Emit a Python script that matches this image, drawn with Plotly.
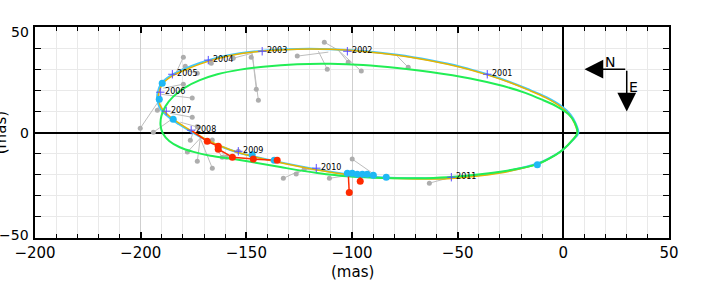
import plotly.graph_objects as go

# ---------------- data (mas) ----------------
# model orbit (gold)
gold_x = [6.6, 5.2, 3.0, -1.4, -8.0, -17.0, -26.0, -36.0, -48.7, -62.9, -78.6, -94.7, -110.3, -125.9,
          -142.0, -153.0, -163.0, -172.0, -179.0, -185.0, -189.5, -191.4, -191.5, -190.0, -186.5, -181.5,
          -175.6, -168.5, -161.0, -154.3, -146.7, -135.4, -116.4, -100.8, -85.2, -69.1, -54.9, -39.3,
          -25.0, -12.3, -4.0, -0.5, 4.3, 6.6]
gold_y = [-0.3, 4.5, 8.3, 12.3, 16.3, 20.3, 23.9, 27.3, 30.9, 34.0, 36.6, 38.4, 39.4, 39.5,
          38.6, 37.3, 35.2, 32.4, 29.6, 26.8, 23.2, 18.8, 15.5, 11.5, 7.8, 4.2,
          0.5, -3.5, -6.9, -9.4, -11.4, -14.0, -17.8, -20.2, -21.6, -22.0, -21.9, -20.5,
          -18.3, -15.0, -10.8, -8.4, -3.6, -0.3]
# second orbit solution (cyan)
cyan_x = [7.1, 5.7, 3.4, -1.1, -7.8, -16.9, -26.0, -36.0, -48.7, -62.9, -78.6, -94.7, -110.3, -125.9,
          -142.0, -153.1, -163.3, -172.4, -179.5, -185.6, -190.1, -192.0, -192.1, -190.6, -187.0, -181.9,
          -175.8, -168.6, -161.0, -154.3, -146.7, -135.4, -116.4, -100.8, -85.2, -69.1, -54.9, -39.3,
          -25.0, -12.2, -3.8, -0.2, 4.7, 7.1]
cyan_y = [-0.3, 4.6, 8.5, 12.6, 16.6, 20.6, 24.2, 27.6, 31.2, 34.2, 36.8, 38.6, 39.5, 39.6,
          38.8, 37.6, 35.6, 32.8, 30.0, 27.1, 23.4, 18.8, 15.3, 11.2, 7.5, 3.9,
          0.2, -3.7, -7.0, -9.4, -11.3, -13.8, -17.5, -19.9, -21.3, -21.7, -21.6, -20.2,
          -18.0, -14.7, -10.6, -8.2, -3.4, -0.3]
# third orbit solution (green)
green_x = [6.6, 5.5, 2.5, -3.0, -9.5, -18.0, -28.4, -44.0, -62.9, -78.6, -94.7, -110.3, -125.9, -142.0,
           -152.9, -163.7, -172.0, -179.0, -184.6, -188.2, -190.2, -190.6, -189.5, -186.5, -181.5, -175.0,
           -167.0, -158.0, -148.1, -133.9, -116.4, -100.8, -85.2, -69.1, -54.9, -39.3, -25.0, -12.3,
           -4.0, -0.5, 4.3, 6.6]
green_y = [-0.3, 4.5, 8.6, 12.3, 15.3, 18.8, 22.0, 25.6, 28.7, 30.6, 32.0, 32.6, 32.4, 31.2,
           29.8, 27.6, 24.8, 21.3, 17.0, 12.5, 7.8, 3.5, -0.5, -4.0, -7.0, -9.2,
           -11.0, -12.3, -13.9, -16.4, -19.2, -20.9, -21.6, -21.7, -21.2, -19.8, -17.8, -15.0,
           -10.8, -8.4, -3.6, -0.3]

# yearly epochs on the orbit
years = ["2001", "2002", "2003", "2004", "2005", "2006", "2007", "2008", "2009", "2010", "2011"]
year_x = [-36.0, -102.2, -142.5, -168.0, -185.0, -190.7, -187.9, -176.1, -153.8, -116.9, -53.0]
year_y = [27.6, 38.5, 38.5, 34.3, 27.6, 19.1, 10.1, 1.1, -8.9, -16.9, -21.2]

# gray (older) measurements and their model positions
gray_x = [-179.8, -178.9, -173.2, -166.6, -156.2, -179.8, -175.6, -192.1, -175.6, -200.2, -194.0, -172.7,
          -147.7, -145.3, -144.3, -125.9, -111.7, -113.1, -101.8, -95.6, -73.4, -176.5, -173.2, -177.9,
          -173.2, -166.1, -166.1, -161.4, -159.5, -153.8, -132.5, -126.4, -122.6, -110.7, -99.9, -63.4]
gray_y = [35.7, 31.4, 28.1, 32.8, 35.2, 22.9, 16.3, 10.6, 7.2, 2.0, 0.1, 2.5,
          35.7, 20.5, 15.3, 36.2, 30.0, 42.8, 33.3, 29.1, 30.9, -3.7, 2.9, -9.3,
          -13.6, -16.9, -3.6, -11.7, -11.7, -8.9, -21.7, -19.7, -17.4, -21.7, -12.6, -24.0]
gray_mx = [-183.6, -183.6, -178.9, -168.0, -147.2, -189.3, -190.3, -190.7, -186.0, -191.2, -184.6, -181.3,
           -147.2, -147.2, -147.2, -111.2, -115.9, -106.5, -106.5, -106.5, -78.6, -175.1, -175.1, -171.8,
           -171.8, -171.8, -168.5, -164.7, -163.3, -155.5, -122.1, -122.1, -116.0, -100.8, -89.0, -54.9]
gray_my = [27.6, 27.6, 29.5, 33.8, 37.6, 21.0, 18.1, 14.8, 9.1, 15.3, 6.8, 4.9,
           37.6, 37.1, 37.1, 38.1, 38.5, 39.0, 39.0, 39.0, 36.2, 0.1, 0.1, -2.7,
           -2.7, -2.7, -4.1, -6.8, -7.3, -9.4, -16.9, -16.9, -17.9, -20.2, -20.2, -21.7]

# red measurements (sequence) and residual pairs
red_x = [-175.6, -168.5, -163.3, -163.3, -156.6, -146.7, -135.4]
red_y = [0.6, -4.2, -6.5, -7.9, -11.7, -12.6, -13.2]
red2_x = [-101.3, -96.1]
red2_y = [-28.4, -23.1]
red2_mx = [-101.8, -96.1]
red2_my = [-18.8, -20.7]

# cyan measurements
cpt_x = [-189.8, -191.2, -184.6, -147.2, -136.8, -102.2, -99.9, -97.5, -95.1, -92.8, -89.9, -83.8, -12.3]
cpt_y = [23.4, 15.8, 6.3, -10.6, -13.1, -19.3, -19.3, -19.8, -19.8, -19.8, -20.3, -21.2, -15.3]

xtick_vals = [-250, -200, -150, -100, -50, 0, 50]
xtick_text = ["\u2212200", "\u2212200", "\u2212150", "\u2212100", "\u221250", "0", "50"]
ytick_vals = [50, 0, -50]
ytick_text = ["50", "0", "\u221250"]

# ---------------- figure ----------------
fig = go.Figure()

# gray residual lines
gl_x, gl_y = [], []
for a, b, c, d in zip(gray_x, gray_y, gray_mx, gray_my):
    gl_x += [a, c, None]
    gl_y += [b, d, None]
fig.add_trace(go.Scatter(x=gl_x, y=gl_y, mode="lines", line=dict(color="#BDBDBD", width=1),
                         hoverinfo="skip", showlegend=False))
fig.add_trace(go.Scatter(x=gray_x, y=gray_y, mode="markers",
                         marker=dict(color="#ADADAD", size=5), showlegend=False))

# orbits
fig.add_trace(go.Scatter(x=cyan_x, y=cyan_y, mode="lines",
                         line=dict(color="#3FC8FF", width=2, shape="spline", smoothing=1.0), showlegend=False))
fig.add_trace(go.Scatter(x=gold_x, y=gold_y, mode="lines",
                         line=dict(color="#E8B400", width=1.5, shape="spline", smoothing=1.0), showlegend=False))
fig.add_trace(go.Scatter(x=green_x, y=green_y, mode="lines",
                         line=dict(color="#22EE55", width=2, shape="spline", smoothing=1.0), showlegend=False))

# red measurements
fig.add_trace(go.Scatter(x=red_x, y=red_y, mode="lines", line=dict(color="#FF2A00", width=1.5), showlegend=False))
rl_x, rl_y = [], []
for a, b, c, d in zip(red2_x, red2_y, red2_mx, red2_my):
    rl_x += [a, c, None]
    rl_y += [b, d, None]
fig.add_trace(go.Scatter(x=rl_x, y=rl_y, mode="lines", line=dict(color="#FF2A00", width=1.5), showlegend=False))

# cyan measurements
fig.add_trace(go.Scatter(x=cpt_x, y=cpt_y, mode="markers",
                         marker=dict(color="#1EB8F5", size=7), showlegend=False))
# red markers
fig.add_trace(go.Scatter(x=red_x[1:] + red2_x, y=red_y[1:] + red2_y, mode="markers",
                         marker=dict(color="#FF2A00", size=7), showlegend=False))

# yearly markers
fig.add_trace(go.Scatter(x=year_x, y=year_y, mode="markers+text", text=years,
                         textposition="middle right",
                         textfont=dict(family="DejaVu Sans", size=8, color="black"),
                         marker=dict(symbol="cross-thin", size=6, line=dict(color="#5A4CFF", width=1)),
                         showlegend=False))

axis_common = dict(showline=True, linecolor="black", linewidth=2, mirror="ticks",
                   ticks="inside", tickcolor="black", showgrid=True, gridcolor="#CFCFCF", gridwidth=1,
                   zeroline=True, zerolinecolor="black", zerolinewidth=1.5,
                   tickfont=dict(family="DejaVu Sans", size=15, color="black"))

fig.update_xaxes(range=[-250, 50], tickmode="array", tickvals=xtick_vals, ticktext=xtick_text,
                 ticklen=6, tickwidth=1.5,
                 minor=dict(tickmode="linear", tick0=0, dtick=10, showgrid=True, gridcolor="#E9E9E9",
                            ticks="inside", ticklen=4, tickcolor="black", tickwidth=1),
                 **axis_common)
fig.update_yaxes(range=[-50, 50], tickmode="array", tickvals=ytick_vals, ticktext=["", "", ""],
                 ticklen=6, tickwidth=1.5,
                 minor=dict(tickmode="linear", tick0=0, dtick=10, showgrid=True, gridcolor="#E9E9E9",
                            ticks="inside", ticklen=6, tickcolor="black", tickwidth=1),
                 **axis_common)

annotations = []
# y tick labels (placed slightly inward like the reference)
for v, t, sh in zip(ytick_vals, ytick_text, [-5, 0, 3]):
    annotations.append(dict(x=-0.006, xref="paper", y=v, yref="y", text=t, showarrow=False,
                            xanchor="right", yanchor="middle", yshift=sh,
                            font=dict(family="DejaVu Sans", size=14, color="black")))
# axis titles
annotations.append(dict(x=0.5, xref="paper", y=-0.161, yref="paper", text="(mas)", showarrow=False,
                        xanchor="center", yanchor="middle",
                        font=dict(family="DejaVu Sans", size=15, color="black")))
annotations.append(dict(x=-0.054, xref="paper", y=0.5, yref="paper", text="(mas)", showarrow=False,
                        textangle=-90, xanchor="center", yanchor="middle",
                        font=dict(family="DejaVu Sans", size=15, color="black")))
# compass
annotations.append(dict(x=10, y=30, ax=30, ay=30, xref="x", yref="y", axref="x", ayref="y", text="",
                        showarrow=True, arrowhead=2, arrowsize=2.5, arrowwidth=1.5, arrowcolor="black"))
annotations.append(dict(x=30, y=10, ax=30, ay=30, xref="x", yref="y", axref="x", ayref="y", text="",
                        showarrow=True, arrowhead=2, arrowsize=2.5, arrowwidth=1.5, arrowcolor="black"))
annotations.append(dict(x=22.2, y=33.5, xref="x", yref="y", text="N", showarrow=False,
                        font=dict(family="DejaVu Sans", size=14, color="black")))
annotations.append(dict(x=33.2, y=21.5, xref="x", yref="y", text="E", showarrow=False,
                        font=dict(family="DejaVu Sans", size=14, color="black")))

fig.update_layout(width=706, height=294, margin=dict(l=35, r=37, t=27, b=56),
                  paper_bgcolor="white", plot_bgcolor="white", showlegend=False,
                  annotations=annotations)

fig.write_html("out.html", config={"displayModeBar": False},
               post_script="document.body.style.margin='0';")
